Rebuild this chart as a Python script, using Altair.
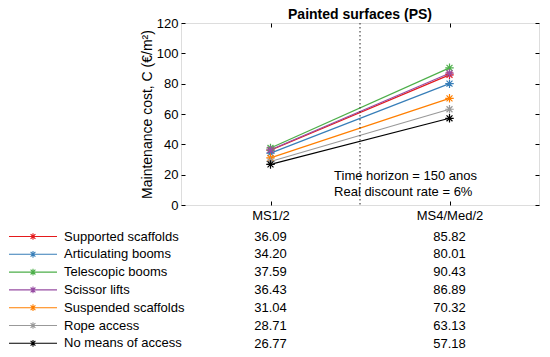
import altair as alt
import pandas as pd

names = ["Supported scaffolds", "Articulating booms", "Telescopic booms",
         "Scissor lifts", "Suspended scaffolds", "Rope access", "No means of access"]
colors = ["#e41a1c", "#377eb8", "#4daf4a", "#984ea3", "#ff7f00", "#999999", "#000000"]
categories = ["MS1/2", "MS4/Med/2"]
ms12 = [36.09, 34.20, 37.59, 36.43, 31.04, 28.71, 26.77]
ms4 = [85.82, 80.01, 90.43, 86.89, 70.32, 63.13, 57.18]
y_ticks = [0, 20, 40, 60, 80, 100, 120]

rows = []
for i, n in enumerate(names):
    rows.append({"name": n, "idx": 1, "cat": categories[0], "value": ms12[i], "order": i})
    rows.append({"name": n, "idx": 2, "cat": categories[1], "value": ms4[i], "order": i})
df = pd.DataFrame(rows)

FONT = "Liberation Sans"
W, H = 358, 182

label_expr = "datum.value == 1 ? '%s' : (datum.value == 2 ? '%s' : '')" % (categories[0], categories[1])
xscale = alt.Scale(domain=[0.5, 2.5], nice=False, zero=False)
yscale = alt.Scale(domain=[0, 120], nice=False)
cscale = alt.Scale(domain=names, range=colors)

star_path = ("M-1,0H1M0,-0.14V0.14M-0.1,-0.1L0.1,0.1M-0.1,0.1L0.1,-0.1")
legend = alt.Legend(
    orient="none", legendX=-173, legendY=205.5, title=None,
    symbolType=star_path, symbolSize=2304, symbolStrokeWidth=1.1,
    symbolFillColor="transparent",
    clipHeight=16, rowPadding=1.8, padding=0,
    labelFontSize=13, labelFont=FONT, labelOffset=6, labelColor="black",
)

base = alt.Chart(df)

lines = base.mark_line(strokeWidth=1.2).encode(
    x=alt.X("idx:Q", scale=xscale, title=None,
            axis=alt.Axis(orient="bottom", values=[1, 2], labelExpr=label_expr,
                          offset=-4, tickSize=4, domain=False, grid=False,
                          labelFontSize=13, labelFont=FONT, labelColor="black",
                          labelPadding=4, tickColor="black")),
    y=alt.Y("value:Q", scale=yscale,
            title="Maintenance cost, C (€/m²)",
            axis=alt.Axis(orient="left", values=y_ticks, offset=-4, tickSize=4,
                          domain=False, grid=False, labelFontSize=13, labelFont=FONT,
                          labelColor="black", labelPadding=3, tickColor="black",
                          titleFontSize=14, titleFont=FONT, titleFontWeight="normal",
                          titleColor="black", titlePadding=2)),
    color=alt.Color("name:N", scale=cscale, legend=legend),
    detail="name:N",
    order="idx:Q",
)

points = base.mark_point(shape="M-1,0H1M0,-1V1M-0.7,-0.7L0.7,0.7M-0.7,0.7L0.7,-0.7",
                         filled=False, size=72, strokeWidth=1.2, opacity=1).encode(
    x=alt.X("idx:Q", scale=xscale, title=None,
            axis=alt.Axis(orient="top", values=[1, 2], labels=False, offset=-4,
                          tickSize=4, domain=False, grid=False, tickColor="black")),
    y=alt.Y("value:Q", scale=yscale, title=None,
            axis=alt.Axis(orient="right", values=y_ticks, labels=False, offset=-4,
                          tickSize=4, domain=False, grid=False, tickColor="black")),
    color=alt.Color("name:N", scale=cscale, legend=legend),
)

divider = alt.Chart(pd.DataFrame({"x": [1.5]})).mark_rule(
    strokeDash=[1.5, 2.5], color="#222222", strokeWidth=1).encode(
    x=alt.X("x:Q", scale=xscale, axis=None),
)

annot = alt.Chart(pd.DataFrame({"x": [1.355], "y": [19.0],
                                "t": ["Time horizon = 150 anos\nReal discount rate = 6%"]})).mark_text(
    align="left", baseline="middle", fontSize=13, font=FONT, color="black",
    lineBreak="\n", lineHeight=16).encode(
    x=alt.X("x:Q", scale=xscale, axis=None),
    y=alt.Y("y:Q", scale=yscale, axis=None),
    text="t:N",
)

table = base.mark_text(fontSize=13, font=FONT, color="black", align="center",
                       baseline="middle").encode(
    x=alt.X("idx:Q", scale=xscale, axis=None),
    y=alt.Y("name:N", scale=alt.Scale(domain=names, range=[213.5, 320.5], padding=0),
            axis=None),
    text=alt.Text("value:Q", format=".2f"),
)

chart = alt.layer(lines, points, divider, annot, table).resolve_scale(
    y="independent"
).resolve_axis(x="independent", y="independent").properties(
    width=W, height=H,
    title=alt.TitleParams("Painted surfaces (PS)", fontSize=14, font=FONT,
                          fontWeight="bold", color="black", anchor="middle",
                          frame="group", offset=-5),
    padding=0,
).configure_view(stroke="black", strokeWidth=1).configure(background="white")

chart.save("out.html", embed_options={"renderer": "svg", "actions": False})
